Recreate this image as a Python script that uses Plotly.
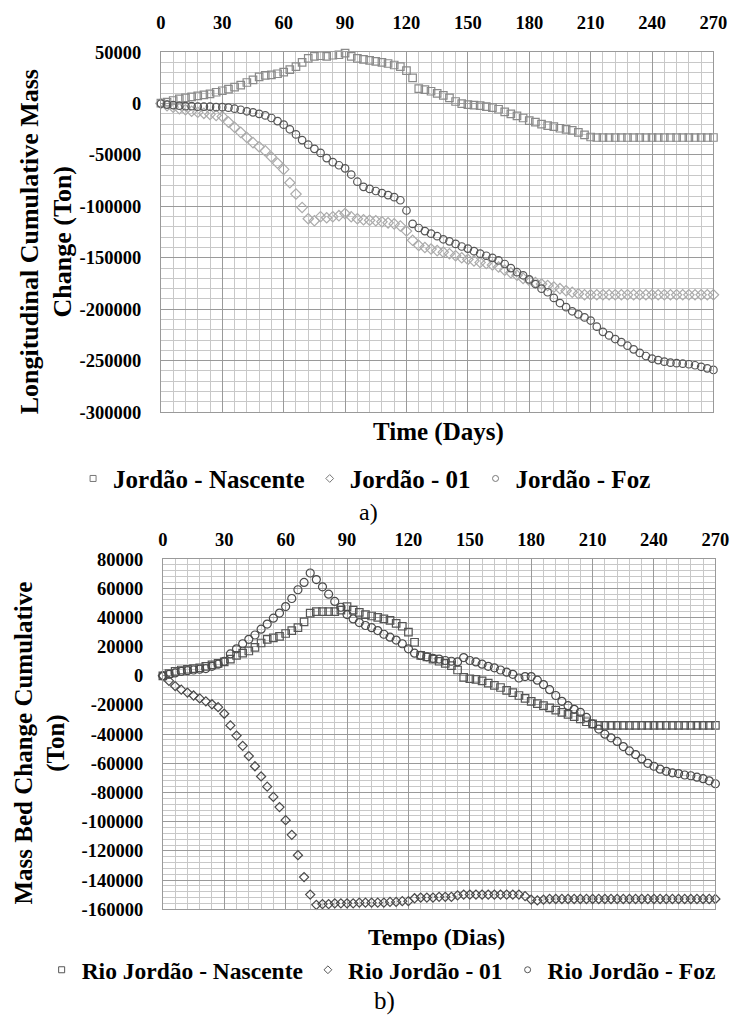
import plotly.graph_objects as go

# ---------------- data ----------------
days = list(range(0, 271, 3))

x_tick_vals = [0, 30, 60, 90, 120, 150, 180, 210, 240, 270]
x_tick_text = ["0", "30", "60", "90", "120", "150", "180", "210", "240", "270"]

top_y_vals = [50000, 0, -50000, -100000, -150000, -200000, -250000, -300000]
top_y_text = ["50000", "0", "-50000", "-100000", "-150000", "-200000", "-250000", "-300000"]

bot_y_vals = [80000, 60000, 40000, 20000, 0, -20000, -40000, -60000, -80000,
              -100000, -120000, -140000, -160000]
bot_y_text = ["80000", "60000", "40000", "20000", "0", "-20000", "-40000", "-60000",
              "-80000", "-100000", "-120000", "-140000", "-160000"]

# a) Longitudinal cumulative mass change (Ton)
top_nascente = [
    500, 1500, 3000, 4500, 5500, 6500, 7500, 8500, 9500, 11000,
    12500, 14000, 16000, 18000, 20500, 23000, 26000, 27500, 28000, 29000,
    30500, 33000, 36000, 40000, 44000, 46000, 46500, 46000, 47000, 47500,
    49000, 46000, 44000, 43000, 42000, 41000, 40000, 39000, 37500, 36000,
    32000, 25000, 14500, 13500, 12000, 10000, 8000, 5500, 2000, 0,
    -1000, -1500, -2000, -3000, -4000, -5500, -8000, -10000, -12000, -14000,
    -16500, -18000, -20000, -21500, -22500, -24000, -25000, -26000, -28000, -30500,
    -32500, -33000, -33000, -33000, -33000, -33000, -33000, -33000, -33000, -33000,
    -33000, -33000, -33000, -33000, -33000, -33000, -33000, -33000, -33000, -33000,
    -33000,
]
top_01 = [
    0, -2000, -3500, -5000, -6000, -7500, -8500, -9500, -10500, -11500,
    -12500, -18000, -23000, -28000, -33000, -38000, -42000, -46000, -52000, -58000,
    -64000, -77000, -88000, -101000, -112000, -114000, -110000, -111000, -110000, -109000,
    -107000, -110000, -112000, -113000, -113500, -114000, -115000, -116000, -117000, -119000,
    -124000, -133000, -138000, -140000, -141500, -143000, -144500, -146000, -148000, -150000,
    -151500, -153000, -154500, -155500, -157000, -159000, -162000, -164500, -167000, -170000,
    -172000, -174000, -175500, -177000, -178500, -180000, -182000, -183500, -185000, -186000,
    -186000, -186000, -186000, -186000, -186000, -186000, -186000, -186000, -186000, -186000,
    -186000, -186000, -186000, -186000, -186000, -186000, -186000, -186000, -186000, -186000,
    -186000,
]
top_foz = [
    0, -1000, -1500, -2000, -2500, -2500, -3000, -3000, -3000, -3500,
    -3500, -4000, -5000, -6000, -7500, -8500, -10000, -11500, -14000, -17000,
    -20500, -25000, -30000, -35500, -40000, -44000, -48000, -53000, -57000, -60000,
    -63000, -69000, -76000, -81000, -83000, -85000, -87000, -89000, -91000, -94000,
    -104000, -117000, -121000, -124000, -126500, -129000, -132000, -134000, -136500, -139000,
    -141000, -143500, -146000, -148000, -150000, -152500, -156000, -160000, -164000, -167000,
    -171000, -175500, -180000, -183500, -189000, -194000, -198000, -202000, -205000, -208000,
    -211000, -217000, -222000, -225500, -229000, -232000, -235500, -239000, -242500, -245500,
    -248000, -249500, -251000, -252000, -252500, -253000, -253500, -254500, -256000, -257500,
    -259000,
]

# b) Mass bed change cumulative (Ton)
bot_nascente = [
    0, 1500, 3000, 4000, 4500, 5000, 5500, 6500, 7500, 8500,
    9500, 11500, 14000, 15500, 17000, 19500, 22500, 25000, 26000, 27000,
    29000, 31000, 33000, 37000, 43000, 44000, 44000, 44000, 44000, 45000,
    47500, 45000, 43500, 42000, 41000, 40000, 39000, 38000, 36000, 34000,
    30000, 23000, 14000, 13000, 11500, 10000, 8500, 7000, 4000, -1000,
    -2000, -2500, -3500, -5000, -6500, -8000, -10000, -11500, -13500, -15500,
    -17500, -19000, -20500, -22000, -23500, -25000, -26500, -28000, -29500, -31500,
    -33000, -34000, -34000, -34000, -34000, -34000, -34000, -34000, -34000, -34000,
    -34000, -34000, -34000, -34000, -34000, -34000, -34000, -34000, -34000, -34000,
    -34000,
]
bot_01 = [
    0, -3500, -7000, -9500, -11500, -13500, -15500, -17500, -19500, -21500,
    -26000, -34000, -41000, -48000, -55000, -62000, -69000, -76000, -83000, -90000,
    -99000, -109000, -123000, -138000, -150000, -157000, -156500, -156500, -156000, -156000,
    -156000, -156000, -155500, -155500, -155500, -155500, -155500, -155000, -155000, -154500,
    -154500, -152500, -152000, -152000, -152000, -151500, -151500, -151500, -150500, -150000,
    -150000, -150000, -150000, -150000, -150000, -150000, -150000, -150000, -150000, -151000,
    -153500, -154000, -153500, -153000, -153000, -153000, -153000, -153000, -153000, -153000,
    -153000, -153000, -153000, -153000, -153000, -153000, -153000, -153000, -153000, -153000,
    -153000, -153000, -153000, -153000, -153000, -153000, -153000, -153000, -153000, -153000,
    -153000,
]
bot_foz = [
    0, 1000, 2000, 3000, 3500, 4000, 4500, 5000, 6500, 8000,
    10000, 15000, 18500, 22000, 25000, 28000, 32000, 35500, 39500, 43000,
    47500, 53000, 59000, 64000, 70500, 66000, 61000, 56000, 51000, 47000,
    42000, 39000, 36500, 34500, 33000, 31000, 28500, 26500, 24500, 22000,
    18500, 15500, 14000, 13000, 12000, 11500, 10500, 10000, 9500, 12500,
    10500, 9500, 8000, 6500, 5500, 4000, 2500, 1000, -1500, -500,
    -500, -3000, -6000, -9500, -13500, -17500, -20500, -23000, -25000, -28500,
    -33000, -36500, -40000, -42500, -45000, -48500, -51500, -54000, -57000, -60000,
    -62000, -64000, -65500, -66500, -67000, -68000, -68500, -69500, -70500, -72000,
    -74000,
]

top_names = ["Jordão - Nascente", "Jordão - 01", "Jordão - Foz"]
bot_names = ["Rio Jordão - Nascente", "Rio Jordão - 01", "Rio Jordão - Foz"]

# ---------------- figure ----------------
W, H = 744, 1030
SERIF = "Liberation Serif"

fig = go.Figure()

top_styles = [("square-open", "#8a8a8a", 7.5), ("diamond-open", "#ababab", 8), ("circle-open", "#555555", 7.5)]
bot_styles = [("square-open", "#555555", 7.5), ("diamond-open", "#4a4a4a", 7), ("circle-open", "#4a4a4a", 8)]

for vals, (sym, col, sz) in zip([top_nascente, top_01, top_foz], top_styles):
    fig.add_trace(go.Scatter(x=days, y=vals, mode="markers", xaxis="x", yaxis="y",
                             marker=dict(symbol=sym, color=col, size=sz, line=dict(width=1.2, color=col)),
                             showlegend=False, cliponaxis=False))
for vals, (sym, col, sz) in zip([bot_nascente, bot_01, bot_foz], bot_styles):
    fig.add_trace(go.Scatter(x=days, y=vals, mode="markers", xaxis="x2", yaxis="y2",
                             marker=dict(symbol=sym, color=col, size=sz, line=dict(width=1.2, color=col)),
                             showlegend=False, cliponaxis=False))

# legend entries (small symbols like the reference)
for name, (sym, col, sz) in zip(top_names, top_styles):
    fig.add_trace(go.Scatter(x=[None], y=[None], mode="markers", name=name, xaxis="x", yaxis="y",
                             marker=dict(symbol=sym, color="#777777", size=6, line=dict(width=1, color="#777777")),
                             legend="legend"))
for name, (sym, col, sz) in zip(bot_names, bot_styles):
    fig.add_trace(go.Scatter(x=[None], y=[None], mode="markers", name=name, xaxis="x2", yaxis="y2",
                             marker=dict(symbol=sym, color="#555555", size=6, line=dict(width=1, color="#555555")),
                             legend="legend2"))

MAJOR = "#9a9a9a"
MINOR = "#c8c8c8"
tickfont = dict(family=SERIF, size=18.5, color="black", weight="bold")


def xaxis_cfg(domain, anchor, standoff):
    return dict(domain=domain, anchor=anchor, side="top", range=[0, 270],
                tickvals=x_tick_vals, ticktext=x_tick_text, tickfont=tickfont,
                ticks="", ticklabelstandoff=standoff,
                showgrid=True, gridcolor=MAJOR, gridwidth=1,
                minor=dict(dtick=6, tick0=0, showgrid=True, gridcolor=MINOR, gridwidth=1),
                showline=True, linecolor=MAJOR, linewidth=1, mirror=True,
                zeroline=False, fixedrange=True)


def yaxis_cfg(domain, anchor, rng, vals, text, mdt):
    return dict(domain=domain, anchor=anchor, range=rng,
                tickvals=vals, ticktext=text, tickfont=tickfont,
                ticks="", ticklabelstandoff=15,
                showgrid=True, gridcolor=MAJOR, gridwidth=1,
                minor=dict(dtick=mdt, tick0=0, showgrid=True, gridcolor=MINOR, gridwidth=1),
                showline=True, linecolor=MAJOR, linewidth=1, mirror=True,
                zeroline=False, fixedrange=True)


fig.update_layout(
    width=W, height=H, margin=dict(l=0, r=0, t=0, b=0),
    paper_bgcolor="white", plot_bgcolor="white",
    font=dict(family=SERIF, color="black"),
    xaxis=xaxis_cfg([160 / W, 727 / W], "y", 15),
    yaxis=yaxis_cfg([1 - 410 / H, 1 - 43 / H], "x", [-300000, 50000], top_y_vals, top_y_text, 10000),
    xaxis2=xaxis_cfg([162 / W, 729 / W], "y2", 5),
    yaxis2=yaxis_cfg([1 - 917 / H, 1 - 560 / H], "x2", [-160000, 80000], bot_y_vals, bot_y_text, 4000),
    legend=dict(orientation="h", x=369 / W, xanchor="center", y=1 - 478 / H, yanchor="middle",
                font=dict(family=SERIF, size=25, color="black", weight="bold"),
                bgcolor="rgba(0,0,0,0)", itemclick=False, itemdoubleclick=False),
    legend2=dict(orientation="h", x=386 / W, xanchor="center", y=1 - 979 / H, yanchor="middle",
                 font=dict(family=SERIF, size=23.5, color="black", weight="bold"),
                 bgcolor="rgba(0,0,0,0)", itemclick=False, itemdoubleclick=False),
)


def note(text, x, y, size, bold=True, angle=0):
    return dict(text=text, x=x / W, y=1 - y / H, xref="paper", yref="paper",
                xanchor="center", yanchor="middle", showarrow=False, textangle=angle,
                font=dict(family=SERIF, size=size, color="black",
                          weight="bold" if bold else "normal"))


ann = [
    note("Time (Days)", 445, 430, 25),
    note("Tempo (Dias)", 443, 945, 24),
    note("Longitudinal Cumulative Mass<br>Change (Ton)", 42, 236, 26, angle=-90),
    note("Mass Bed Change Cumulative<br>(Ton)", 36, 748, 25, angle=-90),
    note("a)", 373, 512, 24, bold=False),
    note("b)", 389, 1011, 25, bold=False),
]
fig.update_layout(annotations=ann)

fig.write_html("out.html")
